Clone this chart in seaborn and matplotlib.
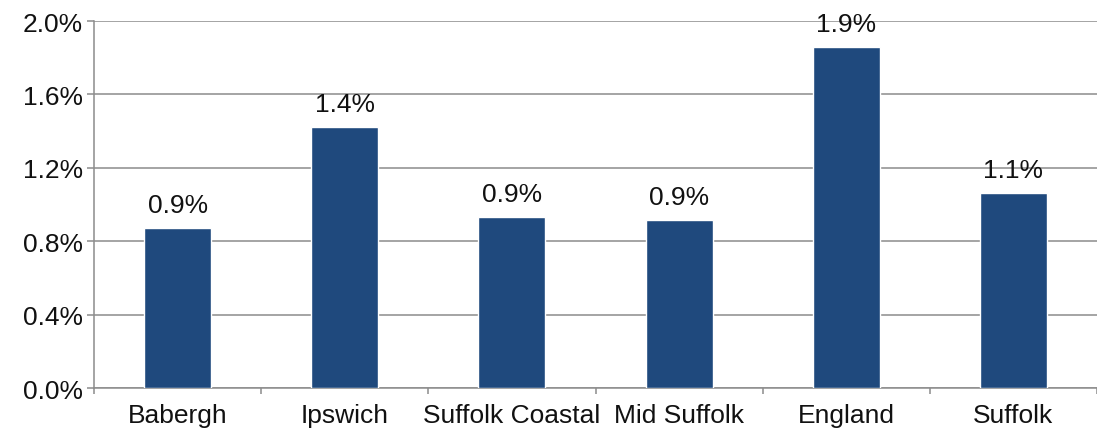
import matplotlib
matplotlib.use("Agg")
import matplotlib.pyplot as plt
import seaborn as sns
import pandas as pd
from matplotlib.ticker import FuncFormatter, FixedLocator

categories = ["Babergh", "Ipswich", "Suffolk Coastal", "Mid Suffolk", "England", "Suffolk"]
values = [0.874, 1.422, 0.932, 0.916, 1.858, 1.064]
yticks = [0.0, 0.4, 0.8, 1.2, 1.6, 2.0]

sns.set_theme(style="white")
plt.rcParams["font.family"] = ["Liberation Sans", "DejaVu Sans"]

df = pd.DataFrame({"area": categories, "value": values})

fig = plt.figure(figsize=(10.97, 4.35), dpi=100)
ax = fig.add_axes([0.0857, 0.1057, 0.9143, 0.8437])

sns.barplot(data=df, x="area", y="value", order=categories, color="#1F497D",
            saturation=1, width=0.4, ax=ax, zorder=3)

ax.set_ylim(0, 2.0)
ax.set_xlim(-0.5, len(categories) - 0.5)
ax.set_yticks(yticks)
ax.yaxis.set_major_formatter(FuncFormatter(lambda v, p: f"{v:.1f}%"))
ax.grid(axis="y", color="#8C8C8C", linewidth=1.1, zorder=0)
ax.set_axisbelow(True)

for s in ["top", "right"]:
    ax.spines[s].set_visible(False)
for s in ["left", "bottom"]:
    ax.spines[s].set_color("#8C8C8C")
    ax.spines[s].set_linewidth(1.1)

fs = 19
ax.tick_params(axis="y", which="major", direction="out", length=5, width=1.1,
               color="#8C8C8C", labelsize=fs, labelcolor="#111111", pad=3, left=True)
ax.tick_params(axis="x", which="major", length=0, labelsize=fs, labelcolor="#111111", pad=11)
ax.xaxis.set_minor_locator(FixedLocator([i - 0.5 for i in range(len(categories) + 1)]))
ax.tick_params(axis="x", which="minor", direction="out", length=4.5, width=1.1,
               color="#8C8C8C", bottom=True)

ax.set_xlabel("")
ax.set_ylabel("")

for c in ax.containers:
    ax.bar_label(c, labels=[f"{v:.1f}%" for v in values], padding=8,
                 fontsize=fs, color="#111111")

fig.savefig("out.png", dpi=100)
